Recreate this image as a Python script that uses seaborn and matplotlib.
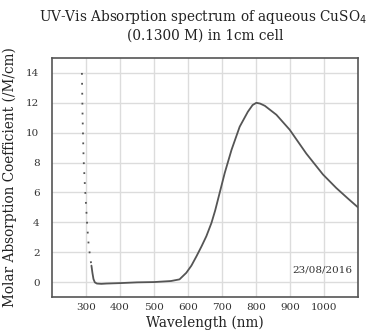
import matplotlib
matplotlib.use("Agg")
import matplotlib.pyplot as plt
import seaborn as sns
import pandas as pd

# Dotted (saturated) region
dot_wl = [288, 290, 293, 296, 298, 301, 303, 307, 311, 314, 316]
dot_val = [14.0, 11.0, 8.2, 6.8, 6.0, 4.8, 4.0, 2.7, 1.9, 1.4, 1.1]

# Solid spectrum
wl = [316, 319, 322, 326, 332, 345, 360, 400, 450, 500, 550, 575, 595, 610, 625,
      640, 654, 669, 680, 693, 708, 728, 752, 776, 790, 801, 812, 826, 860, 899,
      948, 997, 1036, 1070, 1100]
val = [1.1, 0.6, 0.2, -0.02, -0.1, -0.12, -0.1, -0.07, -0.02, 0.0, 0.07, 0.18, 0.62,
       1.1, 1.73, 2.4, 3.07, 3.96, 4.8, 5.96, 7.3, 8.85, 10.4, 11.4, 11.85, 12.0,
       11.95, 11.8, 11.2, 10.2, 8.6, 7.2, 6.3, 5.6, 5.0]

xticks = [300, 400, 500, 600, 700, 800, 900, 1000]
yticks = [0, 2, 4, 6, 8, 10, 12, 14]

sns.set_style("whitegrid", {"grid.color": "#dcdcdc", "axes.edgecolor": "#555555"})
plt.rcParams['font.family'] = ['DejaVu Serif']

fig = plt.figure(figsize=(3.66, 3.33), dpi=100)
ax = fig.add_axes([52/366, 1-297/333, (358-52)/366, (297-58)/333])

df_dot = pd.DataFrame({"wl": dot_wl, "val": dot_val})
df = pd.DataFrame({"wl": wl, "val": val})
sns.lineplot(data=df_dot, x="wl", y="val", ax=ax, color="#555555", lw=1.3,
             linestyle=(0, (1, 4.5)))
sns.lineplot(data=df, x="wl", y="val", ax=ax, color="#555555", lw=1.3)

ax.set_xlim(200, 1100)
ax.set_ylim(-1, 15)
ax.set_xticks(xticks)
ax.set_yticks(yticks)
ax.tick_params(labelsize=7.5, colors="#333333", length=0)
ax.tick_params(axis="x", pad=4)
ax.tick_params(axis="y", pad=9)
for s in ax.spines.values():
    s.set_linewidth(1.2)
    s.set_color("#555555")
ax.grid(True, color="#dcdcdc", lw=1)

ax.set_xlabel("Wavelength (nm)", fontsize=9.8, color="#222222", labelpad=3)
ax.set_ylabel("Molar Absorption Coefficient (/M/cm)", fontsize=9.8, color="#222222", labelpad=7)
ax.set_title("UV-Vis Absorption spectrum of aqueous CuSO$_4$:\n(0.1300 M) in 1cm cell",
             fontsize=9.8, color="#222222", pad=13, linespacing=1.25)
ax.text(0.98, 0.115, "23/08/2016", transform=ax.transAxes, ha="right", va="center",
        fontsize=7.5, color="#333333")

fig.savefig("out.png", dpi=100)
